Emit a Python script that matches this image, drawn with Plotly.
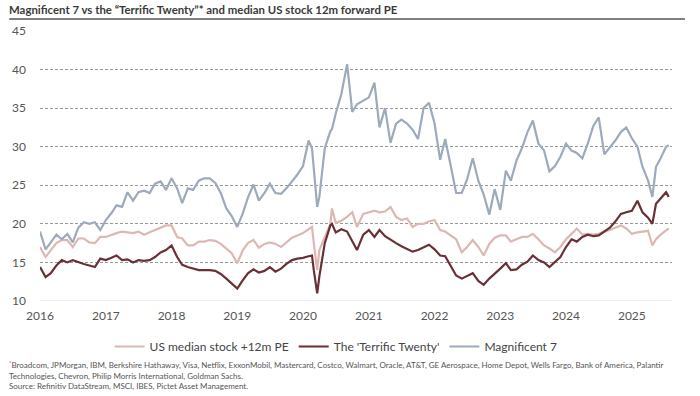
import plotly.graph_objects as go

dates = [
    "2016-01-01","2016-02-01","2016-03-01","2016-04-01","2016-05-01","2016-06-01",
    "2016-07-01","2016-08-01","2016-09-01","2016-10-01","2016-11-01","2016-12-01",
    "2017-01-01","2017-02-01","2017-03-01","2017-04-01","2017-05-01","2017-06-01",
    "2017-07-01","2017-08-01","2017-09-01","2017-10-01","2017-11-01","2017-12-01",
    "2018-01-01","2018-02-01","2018-03-01","2018-04-01","2018-05-01","2018-06-01",
    "2018-07-01","2018-08-01","2018-09-01","2018-10-01","2018-11-01","2018-12-01",
    "2019-01-01","2019-02-01","2019-03-01","2019-04-01","2019-05-01","2019-06-01",
    "2019-07-01","2019-08-01","2019-09-01","2019-10-01","2019-11-01","2019-12-01",
    "2020-01-01","2020-02-01","2020-02-20","2020-03-01","2020-03-20","2020-04-01",
    "2020-05-01","2020-06-01","2020-06-10","2020-07-01","2020-08-01","2020-09-02",
    "2020-10-01","2020-10-27","2020-12-01",
    "2021-01-01","2021-02-01","2021-03-01","2021-04-01","2021-05-01","2021-06-01",
    "2021-07-01","2021-08-01","2021-09-01","2021-10-01","2021-11-01","2021-12-01",
    "2022-01-01","2022-02-01","2022-03-01","2022-04-01","2022-05-01","2022-06-01",
    "2022-07-01","2022-08-01","2022-09-01","2022-10-01","2022-11-01","2022-12-01",
    "2023-01-01","2023-02-01","2023-03-01","2023-04-01","2023-05-01","2023-06-01",
    "2023-07-01","2023-08-01","2023-09-01","2023-10-01","2023-11-01","2023-12-01",
    "2024-01-01","2024-02-01","2024-03-01","2024-04-01","2024-05-01","2024-06-01",
    "2024-07-01","2024-08-01","2024-09-01","2024-10-01","2024-11-01","2024-12-01",
    "2025-01-01","2025-02-01","2025-03-01","2025-04-01","2025-04-25","2025-05-15",
    "2025-06-10","2025-07-10","2025-07-25",
]

magnificent_7 = [
    19.0, 16.7, 17.6, 18.6, 18.0, 18.7, 17.6, 19.5, 20.2, 20.0, 20.2, 19.2,
    20.5, 21.4, 22.4, 22.2, 24.1, 23.0, 24.1, 24.3, 24.0, 25.2, 25.5, 24.4,
    25.9, 24.6, 22.7, 24.6, 24.4, 25.6, 25.9, 25.9, 25.3, 24.0, 22.0, 21.0,
    19.6, 21.4, 23.4, 25.1, 23.0, 24.0, 25.2, 24.0, 23.9, 24.6, 25.5, 26.4,
    27.5, 30.8, 29.8, 27.0, 22.2, 23.5, 29.8, 32.0, 32.3, 34.3, 36.8, 40.7,
    34.5, 35.5, 36.0,
    36.4, 38.3, 32.5, 35.0, 30.5, 33.0, 33.5, 33.0, 32.2, 31.0, 35.0, 35.7,
    33.0, 28.3, 31.0, 27.5, 24.0, 24.0, 25.8, 28.5, 25.6, 23.8, 21.2, 24.5,
    21.8, 26.9, 25.6, 28.2, 29.8, 31.9, 33.4, 30.4, 29.5, 26.8, 27.5, 28.7,
    30.4, 29.5, 29.2, 28.5, 30.4, 32.7, 33.8, 29.0, 29.9, 30.8, 31.9, 32.5,
    31.1, 30.0, 27.4, 25.6, 23.5, 27.4, 28.5, 30.0, 30.2,
]

us_median = [
    17.0, 15.7, 16.6, 17.5, 17.9, 17.9, 17.0, 18.1, 18.1, 17.6, 17.5, 18.3,
    18.3, 18.6, 18.8, 19.0, 18.9, 18.8, 19.0, 18.6, 18.9, 19.2, 19.5, 19.8,
    19.8, 18.3, 18.1, 17.2, 17.2, 17.7, 17.7, 17.9, 17.8, 17.4, 16.8, 16.2,
    14.9, 16.6, 17.5, 17.9, 16.9, 17.4, 17.6, 17.4, 17.0, 17.6, 18.2, 18.5,
    18.8, 19.3, 19.6, 17.5, 14.0, 16.6, 18.3, 20.0, 22.0, 20.1, 20.4, 20.9,
    21.5, 19.6, 21.3,
    21.5, 21.7, 21.5, 21.6, 22.2, 20.9, 20.5, 20.7, 19.6, 20.0, 20.0, 20.3,
    20.5, 19.2, 19.0, 18.5, 18.0, 16.3, 17.0, 17.9, 17.0, 15.9, 17.4, 18.2,
    18.5, 18.5, 17.7, 18.0, 18.3, 18.3, 18.7, 18.0, 17.2, 16.8, 16.3, 17.0,
    18.0, 18.7, 19.4, 18.6, 18.7, 18.6, 18.7, 19.0, 19.2, 19.5, 19.8, 19.4,
    18.7, 18.9, 19.0, 19.1, 17.2, 18.0, 18.6, 19.1, 19.4,
]

terrific_twenty = [
    14.4, 13.1, 13.6, 14.6, 15.3, 15.0, 15.3, 15.0, 14.8, 14.6, 14.4, 15.5,
    15.3, 15.6, 15.9, 15.3, 15.4, 15.0, 15.3, 15.2, 15.3, 15.7, 16.3, 16.6,
    17.2, 15.7, 14.7, 14.4, 14.2, 14.0, 14.0, 14.0, 13.9, 13.5, 12.9, 12.3,
    11.6, 12.7, 13.6, 14.1, 13.7, 13.9, 14.4, 13.8, 14.2, 14.8, 15.3, 15.5,
    15.6, 15.8, 15.9, 14.0, 11.0, 13.2, 17.5, 19.8, 20.0, 18.9, 19.3, 19.0,
    17.8, 16.6, 18.6,
    19.2, 18.3, 19.2, 18.4, 17.9, 17.5, 17.1, 16.8, 16.4, 16.6, 17.0, 17.3,
    16.7, 15.9, 15.8, 14.6, 13.3, 12.9, 13.2, 13.6, 12.6, 12.1, 12.9, 13.6,
    14.2, 14.9, 14.0, 14.1, 14.7, 15.1, 15.9, 15.3, 15.0, 14.4, 15.0, 15.7,
    17.0, 18.0, 17.7, 18.3, 18.6, 18.4, 18.5, 19.0, 19.5, 20.3, 21.3, 21.5,
    21.7, 23.0, 21.5, 20.8, 20.0, 22.6, 23.3, 24.1, 23.5,
]

year_ticks = ["2016-01-01", "2017-01-01", "2018-01-01", "2019-01-01", "2020-01-01",
              "2021-01-01", "2022-01-01", "2023-01-01", "2024-01-01", "2025-01-01"]
year_labels = ["2016", "2017", "2018", "2019", "2020", "2021", "2022", "2023", "2024", "2025"]
y_ticks = [10, 15, 20, 25, 30, 35, 40, 45]

FONT = "Lato"
PLOT_H = 270.0
PLOT_W = 636.0

fig = go.Figure()
fig.add_trace(go.Scatter(x=dates, y=us_median, mode="lines", name="US median stock +12m PE",
                         line=dict(color="#DDB8B3", width=2.2)))
fig.add_trace(go.Scatter(x=dates, y=terrific_twenty, mode="lines", name="The 'Terrific Twenty'",
                         line=dict(color="#6A3035", width=2.2)))
fig.add_trace(go.Scatter(x=dates, y=magnificent_7, mode="lines", name="Magnificent 7",
                         line=dict(color="#9DAABC", width=2.2)))

fig.update_layout(
    width=700, height=396,
    margin=dict(l=36, r=28, t=31, b=95),
    paper_bgcolor="white", plot_bgcolor="white",
    font=dict(family=FONT, size=12, color="#555555"),
    showlegend=True,
    legend=dict(orientation="h", x=(106 - 36) / PLOT_W, xanchor="left",
                y=-31 / PLOT_H, yanchor="top",
                font=dict(size=12, color="#444444"), itemwidth=30, tracegroupgap=0),
    xaxis=dict(range=["2016-01-01", "2025-08-12"], tickvals=year_ticks, ticktext=year_labels,
               showgrid=False, showline=False, zeroline=False, ticks="",
               ticklabelstandoff=6, tickfont=dict(size=12, color="#555555")),
    yaxis=dict(range=[10, 45], tickvals=y_ticks, showgrid=True, gridcolor="#9a9a9a",
               griddash="3px,2px", gridwidth=1, zeroline=False, showline=False, ticks="",
               ticklabelstandoff=13, tickfont=dict(size=12, color="#555555")),
    shapes=[
        dict(type="line", xref="paper", yref="y", x0=0, x1=1, y0=10, y1=10,
             line=dict(color="#eeeeee", width=2), layer="above"),
        dict(type="line", xref="paper", yref="paper", x0=-31 / PLOT_W, x1=649 / PLOT_W,
             y0=1.0 + 12 / PLOT_H, y1=1.0 + 12 / PLOT_H,
             line=dict(color="#555555", width=1.5)),
    ],
    annotations=[
        dict(text="Magnificent 7 vs the “Terrific Twenty”* and median US stock 12m forward PE",
             xref="paper", yref="paper", x=-33 / PLOT_W, y=1.0 + 13 / PLOT_H, xanchor="left", yanchor="bottom",
             showarrow=False, font=dict(family=FONT, size=11.4, color="#3a3a3a", weight=700)),
        dict(text="<sup>*</sup>Broadcom, JPMorgan, IBM, Berkshire Hathaway, Visa, Netflix, ExxonMobil, Mastercard, Costco, Walmart, Oracle, AT&T, GE Aerospace, Home Depot, Wells Fargo, Bank of America, Palantir<br>Technologies, Chevron, Philip Morris International, Goldman Sachs.<br>Source: Refinitiv DataStream, MSCI, IBES, Pictet Asset Management.",
             xref="paper", yref="paper", x=-33 / PLOT_W, y=-56 / PLOT_H, xanchor="left", yanchor="top",
             align="left", showarrow=False, font=dict(family=FONT, size=8, color="#555555")),
    ],
)

fig.write_html("out.html", config={"displayModeBar": False},
               post_script="document.body.style.margin='0';")
